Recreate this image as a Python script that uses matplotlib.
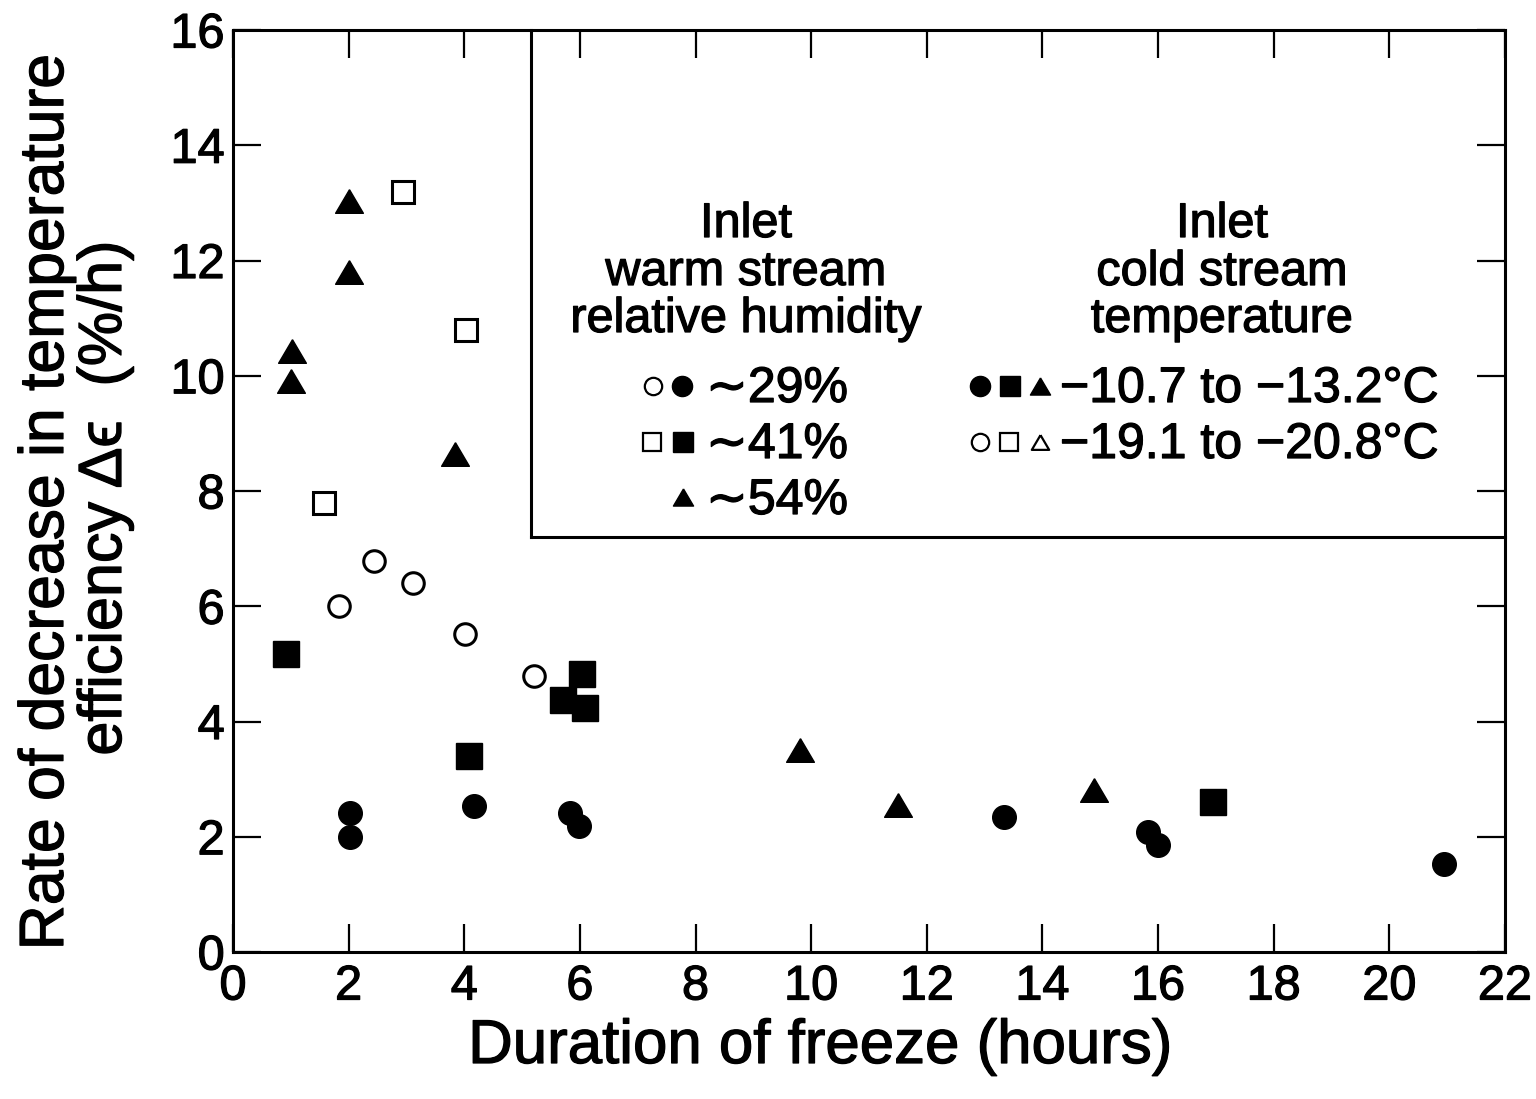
import matplotlib
matplotlib.use("Agg")
import matplotlib.pyplot as plt
import matplotlib.patheffects as pe

plt.rcParams['font.family'] = ['Liberation Sans', 'DejaVu Sans']

# Data (duration of freeze in hours, rate of decrease in %/h)
circ_filled_x = [2.02, 2.02, 4.17, 5.83, 5.98, 13.33, 15.82, 16.0, 20.94]
circ_filled_y = [2.41, 2.00, 2.53, 2.41, 2.19, 2.34, 2.08, 1.86, 1.53]
circ_open_x = [1.83, 2.44, 3.11, 4.01, 5.20]
circ_open_y = [6.00, 6.79, 6.40, 5.52, 4.79]
sq_filled_x = [0.92, 4.08, 5.71, 6.04, 6.09, 16.95]
sq_filled_y = [5.17, 3.40, 4.37, 4.82, 4.23, 2.60]
sq_open_x = [2.94, 4.03, 1.57]
sq_open_y = [13.19, 10.79, 7.79]
tri_filled_x = [2.0, 2.0, 1.02, 1.0, 3.84, 9.80, 11.50, 14.90]
tri_filled_y = [13.03, 11.80, 10.43, 9.91, 8.64, 3.50, 2.55, 2.81]

xticks = list(range(0, 23, 2))
yticks = list(range(0, 17, 2))

fig = plt.figure(figsize=(15.36, 10.99), dpi=100)
ax = fig.add_axes([233/1536, 1-952/1099, (1505-233)/1536, (952-30)/1099])

tri = [(0, 0.85), (-1, -0.85), (1, -0.85), (0, 0.85)]
ax.plot(circ_filled_x, circ_filled_y, 'o', color='black', ms=17, ls='none')
ax.plot(circ_open_x, circ_open_y, 'o', mfc='white', mec='black', mew=2.2, ms=15.5, ls='none')
ax.plot(sq_filled_x, sq_filled_y, 's', color='black', ms=18.5, ls='none')
ax.plot(sq_open_x, sq_open_y, 's', mfc='white', mec='black', mew=2.2, ms=15.5, ls='none')
ax.plot(tri_filled_x, tri_filled_y, marker=tri, color='black', ms=20, ls='none')

ax.set_xlim(0, 22)
ax.set_ylim(0, 16)
ax.set_xticks(xticks)
ax.set_yticks(yticks)
ax.tick_params(direction='in', length=20, width=1.6, top=True, right=True,
               labelsize=35)
ax.tick_params(axis='y', pad=6)
ax.tick_params(axis='x', pad=9)
for s in ax.spines.values():
    s.set_linewidth(2.2)
stroke = [pe.withStroke(linewidth=0.9, foreground='black')]
for lab in ax.get_xticklabels() + ax.get_yticklabels():
    lab.set_path_effects(stroke)

# legend box
bx, by = (531-233)/(1505-233), (952-537)/(952-30)
ax.plot([bx, bx], [by, 1], transform=ax.transAxes, color='black', lw=2.2, clip_on=False)
ax.plot([bx, 1], [by, by], transform=ax.transAxes, color='black', lw=2.2, clip_on=False)

def fx(px):
    return px/1536
def fy(py):
    return 1-py/1099

def txt(px, py, s, size, ha='left', va='baseline', **kw):
    return fig.text(fx(px), fy(py), s, ha=ha, va=va, fontsize=size,
                    path_effects=stroke, **kw)

tsize = 35
for line, base in zip(["Inlet", "warm stream", "relative humidity"], [237, 285, 332]):
    txt(746, base, line, tsize, ha='center')
for line, base in zip(["Inlet", "cold stream", "temperature"], [237, 285, 332]):
    txt(1222, base, line, tsize, ha='center')

# legend rows
lms = 14.5
def mk(px, py, m, filled):
    if filled:
        fig.add_artist(plt.Line2D([fx(px)], [fy(py)], marker=m, color='black', ms=lms, ls='none'))
    else:
        fig.add_artist(plt.Line2D([fx(px)], [fy(py)], marker=m, mfc='white', mec='black', mew=1.6,
                                  ms=lms-2, ls='none'))

mk(653, 386, 'o', False); mk(682, 386, 'o', True)
mk(652, 442, 's', False); mk(683, 442, 's', True)
mk(683, 497, tri, True)
txt(706, 402, "∼29%", 36)
txt(706, 458, "∼41%", 36)
txt(706, 514, "∼54%", 36)

mk(980, 386, 'o', True); mk(1010, 386, 's', True); mk(1040, 386, tri, True)
mk(980, 442, 'o', False); mk(1009, 442, 's', False); mk(1040, 442, tri, False)
txt(1060, 402, "−10.7 to −13.2°C", 36)
txt(1060, 458, "−19.1 to −20.8°C", 36)

txt(820, 1063, "Duration of freeze (hours)", 44.5, ha='center')
fig.text(fx(63), fy(502), "Rate of decrease in temperature", ha='center', va='baseline',
         fontsize=45, rotation=90, rotation_mode='anchor', path_effects=stroke)
fig.text(fx(121), fy(498), "efficiency Δϵ  (%/h)", ha='center', va='baseline',
         fontsize=44, rotation=90, rotation_mode='anchor', path_effects=stroke)

fig.savefig("out.png", dpi=100)
